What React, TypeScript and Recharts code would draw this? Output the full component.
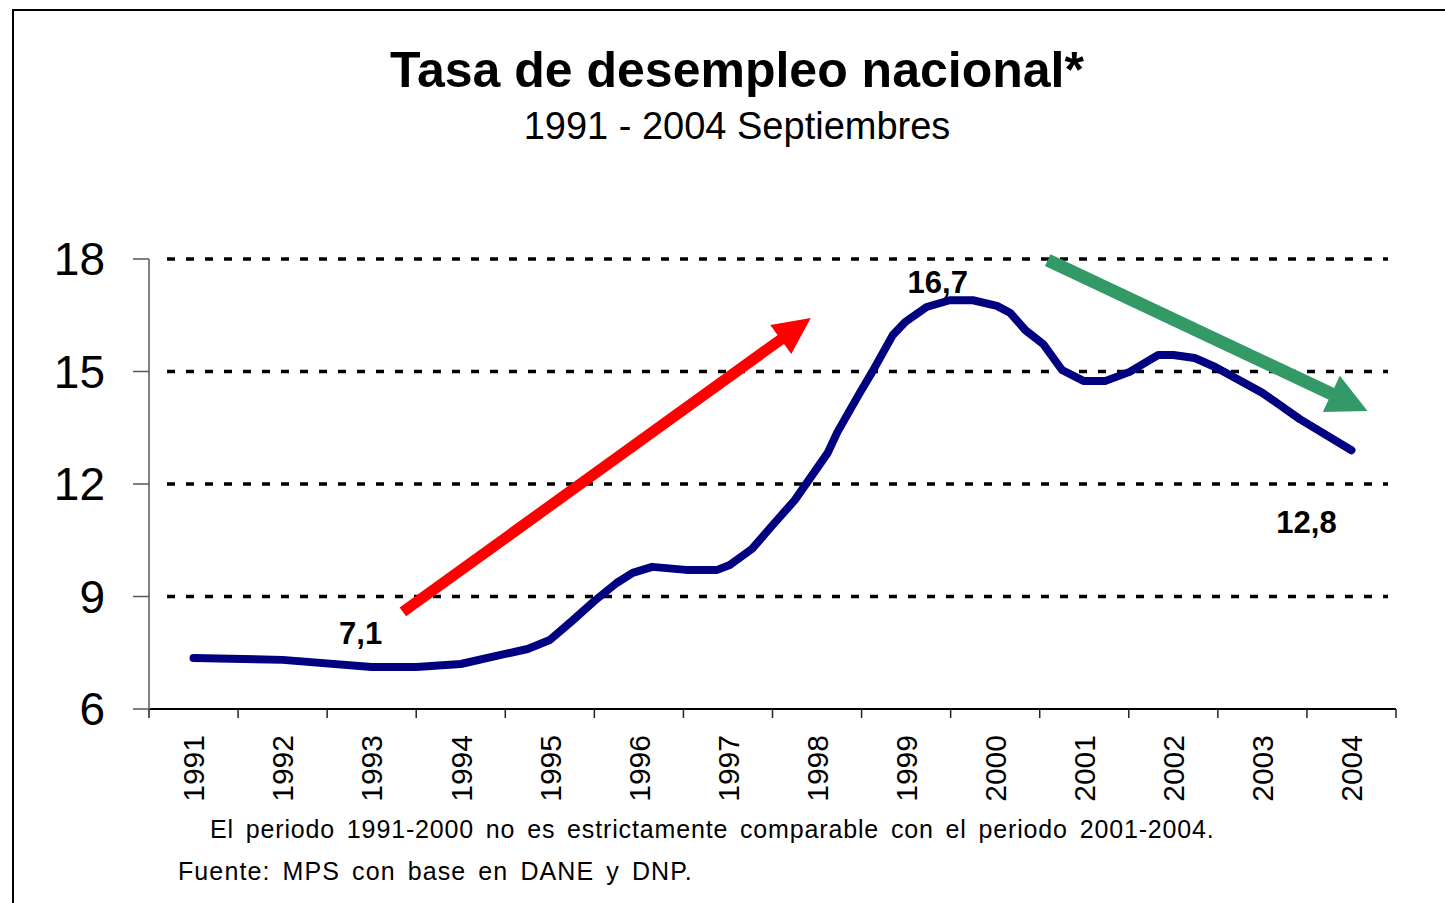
import { LineChart, Line, XAxis, YAxis, ReferenceLine, LabelList } from 'recharts'

// years shown on the axis (one category per year)
const years = [1991, 1992, 1993, 1994, 1995, 1996, 1997, 1998, 1999, 2000, 2001, 2002, 2003, 2004]
// category boundaries, where the small tick marks sit
const yearEdges = [1990.5, 1991.5, 1992.5, 1993.5, 1994.5, 1995.5, 1996.5, 1997.5, 1998.5, 1999.5, 2000.5, 2001.5, 2002.5, 2003.5, 2004.5]
const yTicks = [6, 9, 12, 15, 18]
const gridValues = [9, 12, 15, 18]

// unemployment rate (%), at fractional year positions
const period = [
  1991.0, 1992.0, 1993.0, 1993.5, 1994.0, 1994.5, 1994.75, 1995.0, 1995.25, 1995.5,
  1995.75, 1995.93, 1996.15, 1996.53, 1996.88, 1997.02, 1997.27, 1997.5, 1997.75, 1998.12,
  1998.23, 1998.48, 1998.62, 1998.85, 1998.99, 1999.23, 1999.49, 1999.75, 2000.02, 2000.17,
  2000.34, 2000.54, 2000.75, 2000.99, 2001.24, 2001.51, 2001.83, 2002.0, 2002.24, 2002.47,
  2003.0, 2003.42, 2004.0,
]
const rate = [
  7.36, 7.31, 7.12, 7.12, 7.2, 7.47, 7.6, 7.84, 8.35, 8.88,
  9.36, 9.63, 9.79, 9.71, 9.71, 9.84, 10.27, 10.9, 11.57, 12.83,
  13.39, 14.43, 14.99, 15.97, 16.32, 16.72, 16.9, 16.9, 16.75, 16.56,
  16.1, 15.73, 15.04, 14.75, 14.75, 14.99, 15.44, 15.44, 15.36, 15.12,
  14.43, 13.73, 12.9,
]

// callouts on the curve: which point, text, and offset of the text from the point
const callouts = [
  { at: 1993.0, text: '7,1', dx: -11, dy: -23 },
  { at: 1999.49, text: '16,7', dx: -12, dy: -7 },
  { at: 2004.0, text: '12,8', dx: -45, dy: 83 },
]

// trend arrows (start / tip in data units)
const upArrow = [{ x: 1993.35, y: 8.59 }, { x: 1997.93, y: 16.43 }]
const downArrow = [{ x: 2000.59, y: 17.97 }, { x: 2004.18, y: 13.95 }]

const chartData = period.map((p, i) => ({ period: p, rate: rate[i] }))

const FONT = '"Liberation Sans", Arial, sans-serif'

const YearTick = ({ x, y, payload }: any) => (
  <text
    x={x}
    y={y}
    transform={`rotate(-90, ${x}, ${y})`}
    textAnchor="end"
    dy="0.36em"
    fontSize={30}
    fontFamily={FONT}
    fill="#000"
  >
    {payload.value}
  </text>
)

const NoTick = () => <g />

// dotted grid line, drawn explicitly so the dash size is kept
const gridShape = (props: any) => {
  const { x1, y1, x2, y2 } = props
  return (
    <line
      x1={x1 + 18}
      y1={y1}
      x2={x2 - 8}
      y2={y2}
      stroke="#000"
      strokeWidth={3.5}
      strokeDasharray="8 11"
    />
  )
}

const arrowShape = (color: string, width: number, headLen: number, headW: number) => (props: any) => {
  const { x1, y1, x2, y2 } = props
  const dx = x2 - x1
  const dy = y2 - y1
  const len = Math.sqrt(dx * dx + dy * dy)
  const ux = dx / len
  const uy = dy / len
  const bx = x2 - ux * headLen
  const by = y2 - uy * headLen
  const px = -uy * (headW / 2)
  const py = ux * (headW / 2)
  return (
    <g>
      <line x1={x1} y1={y1} x2={bx + ux * 2} y2={by + uy * 2} stroke={color} strokeWidth={width} />
      <polygon points={`${x2},${y2} ${bx + px},${by + py} ${bx - px},${by - py}`} fill={color} />
    </g>
  )
}

const renderCallout = (props: any) => {
  const { x, y, index } = props
  const c = callouts.find(item => item.at === period[index])
  if (!c) return null
  return (
    <text
      x={x + c.dx}
      y={y + c.dy}
      textAnchor="middle"
      fontSize={31}
      fontWeight="bold"
      fontFamily={FONT}
      fill="#000"
    >
      {c.text}
    </text>
  )
}

export default function App() {
  return (
    <div style={{ position: 'fixed', left: 0, top: 0, width: 1445, height: 903, background: '#fff', overflow: 'hidden', fontFamily: FONT }}>
      <div style={{ position: 'absolute', left: 12, top: 9, width: 1500, height: 1000, borderTop: '2px solid #000', borderLeft: '2px solid #000' }} />

      <div style={{ position: 'absolute', left: 0, top: 42, width: 1474, textAlign: 'center', fontSize: 50, fontWeight: 'bold', color: '#000', lineHeight: '56px' }}>
        Tasa de desempleo nacional*
      </div>
      <div style={{ position: 'absolute', left: 0, top: 104, width: 1474, textAlign: 'center', fontSize: 38, color: '#000', lineHeight: '44px' }}>
        1991 - 2004 Septiembres
      </div>

      <div style={{ position: 'absolute', left: 0, top: 0 }}>
        <LineChart width={1445} height={903} data={chartData} margin={{ top: 259, right: 49, bottom: 93, left: 49 }}>
          {gridValues.map(v => (
            <ReferenceLine key={v} xAxisId="years" y={v} shape={gridShape} />
          ))}
          <XAxis
            xAxisId="marks"
            type="number"
            dataKey="period"
            domain={[1990.5, 2004.5]}
            ticks={yearEdges}
            interval={0}
            tick={<NoTick />}
            tickSize={9}
            height={1}
            axisLine={{ stroke: '#000', strokeWidth: 2 }}
            tickLine={{ stroke: '#222', strokeWidth: 1.5 }}
          />
          <XAxis
            xAxisId="years"
            type="number"
            dataKey="period"
            domain={[1990.5, 2004.5]}
            ticks={years}
            interval={0}
            tick={<YearTick />}
            tickSize={0}
            tickMargin={25}
            height={100}
            axisLine={false}
            tickLine={false}
          />
          <YAxis
            type="number"
            domain={[6, 18]}
            ticks={yTicks}
            interval={0}
            width={100}
            tickSize={16}
            tickMargin={28}
            axisLine={{ stroke: '#808080', strokeWidth: 2 }}
            tickLine={{ stroke: '#555', strokeWidth: 1.5 }}
            tick={{ fontSize: 46, fill: '#000', fontFamily: FONT }}
          />
          <ReferenceLine
            xAxisId="years"
            segment={upArrow}
            ifOverflow="visible"
            shape={arrowShape('#ff0000', 11, 37, 36)}
          />
          <ReferenceLine
            xAxisId="years"
            segment={downArrow}
            ifOverflow="visible"
            shape={arrowShape('#339966', 13, 40, 40)}
          />
          <Line
            xAxisId="years"
            type="linear"
            dataKey="rate"
            stroke="#000080"
            strokeWidth={8}
            strokeLinecap="round"
            strokeLinejoin="round"
            dot={false}
            isAnimationActive={false}
          >
            <LabelList dataKey="rate" content={renderCallout} />
          </Line>
        </LineChart>
      </div>

      <div style={{ position: 'absolute', left: 210, top: 815, fontSize: 25, color: '#000', whiteSpace: 'nowrap', letterSpacing: 0.85, wordSpacing: 4 }}>
        El periodo 1991-2000 no es estrictamente comparable con el periodo 2001-2004.
      </div>
      <div style={{ position: 'absolute', left: 178, top: 857, fontSize: 25, color: '#000', whiteSpace: 'nowrap', letterSpacing: 1.1, wordSpacing: 4 }}>
        Fuente: MPS con base en DANE y DNP.
      </div>
    </div>
  )
}
